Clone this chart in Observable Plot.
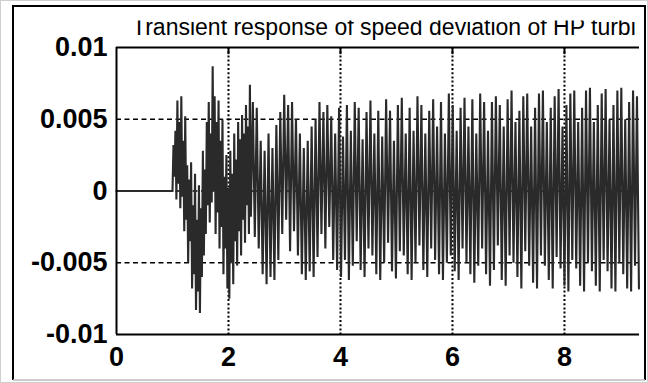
<!DOCTYPE html>
<html>
<head>
<meta charset="utf-8">
<script src="https://cdn.jsdelivr.net/npm/d3@7"></script>
<script src="https://cdn.jsdelivr.net/npm/@observablehq/plot@0.6"></script>
<style>
  html, body { margin: 0; padding: 0; background: #fff; }
  #wrap { position: relative; width: 648px; height: 383px; overflow: hidden; }
  #wrap > svg.plot { position: absolute; left: 0; top: 0; }
  #overlay { position: absolute; left: 0; top: 0; pointer-events: none; }
</style>
</head>
<body>
<div id="wrap"></div>
<script>
const titleText = "Transient response of speed deviation of HP turbine";
const xTicks = [0, 2, 4, 6, 8];
const xTickLabels = ["0", "2", "4", "6", "8"];
const yTicks = [-0.01, -0.005, 0, 0.005, 0.01];
const yTickLabels = ["-0.01", "-0.005", "0", "0.005", "0.01"];
const xDomain = [0, 9.34];
const yDomain = [-0.01, 0.01];

// pre-disturbance segment (time, value)
const preTime = [0, 1.0];
const preValue = [0, 0];

// first transient, read every 0.0175 s from t = 1.0 s
const earlyStart = 1.0;
const earlyStep = 0.0175;
const earlyDev = [
  0.0000, 0.0032, 0.0010, 0.0042, -0.0006, 0.0063, 0.0005, 0.0048, -0.0012, 0.0066,
  -0.0004, 0.0035, -0.0028, 0.0052, -0.0020, 0.0018, -0.0050, 0.0008, -0.0035, 0.0020,
  -0.0068, -0.0010, -0.0058, 0.0012, -0.0083, -0.0020, -0.0070, 0.0004, -0.0085, -0.0012,
  -0.0060, 0.0028, -0.0045, 0.0015, -0.0030, 0.0048, -0.0010, 0.0062, -0.0022, 0.0040,
  -0.0008, 0.0087, 0.0000, 0.0066, -0.0030, 0.0048, -0.0015, 0.0063, -0.0040, 0.0035,
  -0.0025, 0.0050, -0.0058, 0.0010, -0.0040, 0.0025, -0.0068, 0.0002, -0.0075, 0.0028,
  -0.0050, 0.0012, -0.0065, 0.0040, -0.0035, 0.0022, -0.0052, 0.0048, -0.0028, 0.0036,
  -0.0045, 0.0053, -0.0020, 0.0040, -0.0036, 0.0060, -0.0010, 0.0045, -0.0030, 0.0074,
  -0.0018
];

// sustained oscillation, read every 0.035 s from t = 2.435 s
const lateStart = 2.435;
const lateStep = 0.035;
const lateDev = [
  0.0062, -0.0032, 0.0058, -0.0040, 0.0035, -0.0058, 0.0028, -0.0065, 0.0040, -0.0060,
  0.0030, -0.0062, 0.0046, -0.0048, 0.0055, -0.0030, 0.0067, -0.0020, 0.0060, -0.0042,
  0.0062, -0.0028, 0.0050, -0.0045, 0.0040, -0.0058, 0.0030, -0.0062, 0.0035, -0.0056,
  0.0045, -0.0060, 0.0050, -0.0046, 0.0062, -0.0030, 0.0055, -0.0040, 0.0060, -0.0025,
  0.0052, -0.0048, 0.0040, -0.0055, 0.0058, -0.0060, 0.0038, -0.0048, 0.0060, -0.0062,
  0.0042, -0.0052, 0.0062, -0.0035, 0.0058, -0.0055, 0.0036, -0.0060, 0.0055, -0.0040,
  0.0063, -0.0045, 0.0040, -0.0058, 0.0056, -0.0062, 0.0038, -0.0050, 0.0064, -0.0036,
  0.0056, -0.0056, 0.0035, -0.0061, 0.0060, -0.0042, 0.0065, -0.0045, 0.0040, -0.0058,
  0.0058, -0.0062, 0.0042, -0.0050, 0.0066, -0.0038, 0.0060, -0.0055, 0.0040, -0.0060,
  0.0056, -0.0040, 0.0064, -0.0048, 0.0045, -0.0058, 0.0062, -0.0062, 0.0040, -0.0050,
  0.0068, -0.0045, 0.0060, -0.0056, 0.0042, -0.0062, 0.0058, -0.0040, 0.0065, -0.0050,
  0.0045, -0.0058, 0.0064, -0.0064, 0.0040, -0.0052, 0.0068, -0.0040, 0.0062, -0.0058,
  0.0042, -0.0066, 0.0062, -0.0055, 0.0066, -0.0038, 0.0060, -0.0062, 0.0045, -0.0066,
  0.0064, -0.0045, 0.0070, -0.0050, 0.0048, -0.0060, 0.0056, -0.0068, 0.0066, -0.0042,
  0.0068, -0.0052, 0.0045, -0.0064, 0.0058, -0.0068, 0.0068, -0.0045, 0.0070, -0.0052,
  0.0048, -0.0062, 0.0058, -0.0068, 0.0066, -0.0046, 0.0071, -0.0054, 0.0045, -0.0066,
  0.0060, -0.0070, 0.0068, -0.0048, 0.0070, -0.0054, 0.0048, -0.0066, 0.0058, -0.0070,
  0.0070, -0.0050, 0.0072, -0.0056, 0.0048, -0.0066, 0.0060, -0.0070, 0.0068, -0.0048,
  0.0071, -0.0056, 0.0050, -0.0068, 0.0060, -0.0070, 0.0070, -0.0050, 0.0072, -0.0058,
  0.0050, -0.0068, 0.0062, -0.0070, 0.0070, -0.0052, 0.0066, -0.0068
];

const series = preTime.map((t, i) => ({t, v: preValue[i]}))
  .concat(earlyDev.map((v, i) => ({t: earlyStart + i * earlyStep, v})))
  .concat(lateDev.map((v, i) => ({t: lateStart + i * lateStep, v})));

const W = 648, H = 383;
const chart = Plot.plot({
  width: W,
  height: H,
  marginLeft: 116,
  marginRight: 9,
  marginTop: 47,
  marginBottom: 49,
  style: {fontFamily: "'Liberation Sans', Arial, sans-serif", fontSize: "27px", fontWeight: "bold", color: "#000", background: "transparent"},
  x: {domain: xDomain},
  y: {domain: yDomain},
  marks: [
    Plot.ruleY([-0.005, 0, 0.005], {stroke: "#000", strokeWidth: 1.5, strokeDasharray: "5,3.5"}),
    Plot.ruleX(xTicks.slice(1), {stroke: "#000", strokeWidth: 2, strokeDasharray: "2,2.2"}),
    Plot.ruleX(xTicks.slice(1), {y1: 0.01, y2: 0.0095, stroke: "#000", strokeWidth: 2}),
    Plot.line(series, {x: "t", y: "v", stroke: "#2a2a2a", strokeWidth: 2.1, strokeLinejoin: "miter", strokeMiterlimit: 2, curve: "linear"}),
    Plot.ruleX([0], {stroke: "#000", strokeWidth: 2}),
    Plot.ruleY([0.01, -0.01], {stroke: "#000", strokeWidth: 2}),
    Plot.axisX({ticks: xTicks, tickFormat: (d) => xTickLabels[xTicks.indexOf(d)], tickSize: 0, tickPadding: 12, anchor: "bottom", label: null}),
    Plot.axisY({ticks: yTicks, tickFormat: (d) => yTickLabels[yTicks.indexOf(d)], tickSize: 0, tickPadding: 9, anchor: "left", label: null})
  ]
});
chart.classList.add("plot");
const wrap = document.getElementById("wrap");
wrap.appendChild(chart);

// outer frame and title (the source image is cropped through the title)
const ns = "http://www.w3.org/2000/svg";
const ov = document.createElementNS(ns, "svg");
ov.setAttribute("id", "overlay");
ov.setAttribute("width", W);
ov.setAttribute("height", H);
ov.innerHTML = `
  <defs><clipPath id="tclip"><rect x="0" y="20.5" width="637" height="30"/></clipPath></defs>
  <rect x="0.5" y="0.5" width="647" height="382" fill="none" stroke="#cfcfcf" stroke-width="1"/>
  <path d="M13,380 L13,6 L645,6 L645,380" fill="none" stroke="#000" stroke-width="2"/>
  <line x1="13" y1="380" x2="645" y2="380" stroke="#bdbdbd" stroke-width="1.5"/>
`;
const txt = document.createElementNS(ns, "text");
txt.setAttribute("x", 132);
txt.setAttribute("y", 35);
txt.setAttribute("clip-path", "url(#tclip)");
txt.setAttribute("font-family", "'Liberation Sans', Arial, sans-serif");
txt.setAttribute("font-size", "23");
txt.setAttribute("fill", "#000");
txt.textContent = titleText;
ov.appendChild(txt);
wrap.appendChild(ov);
</script>
</body>
</html>
